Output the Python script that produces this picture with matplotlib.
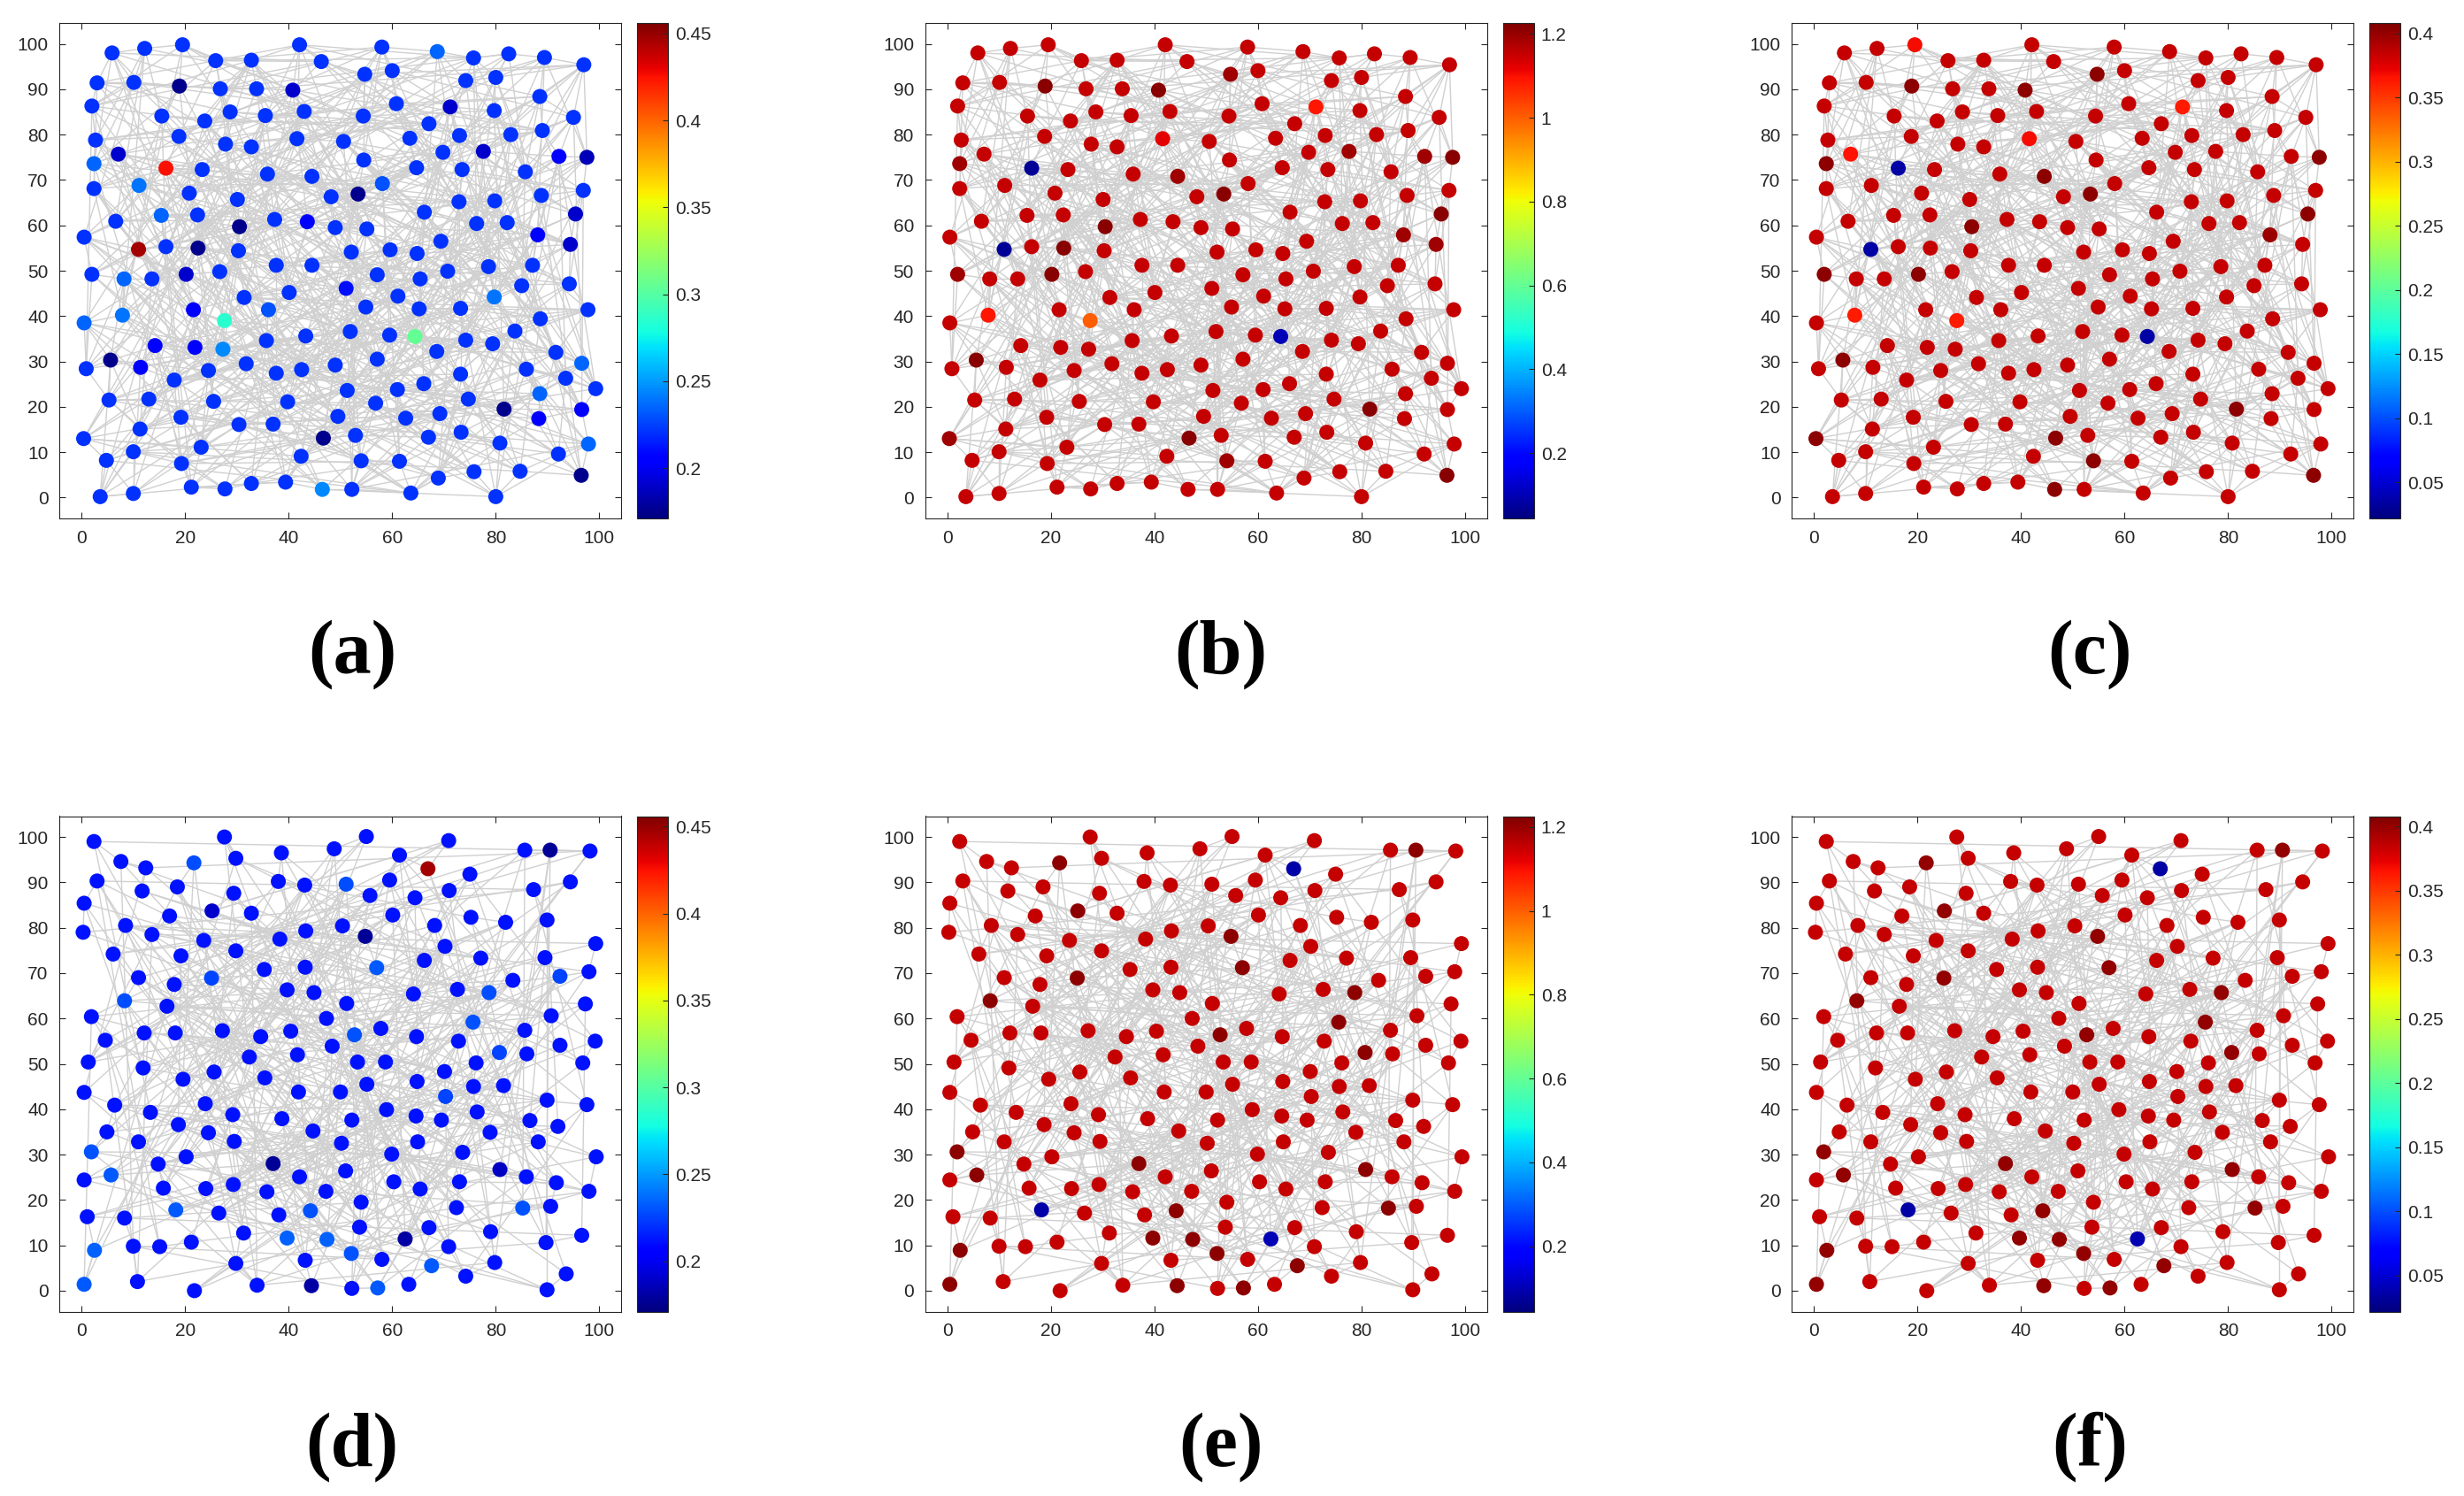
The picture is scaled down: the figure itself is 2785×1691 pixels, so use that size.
import numpy as np
import matplotlib
matplotlib.use('Agg')
import matplotlib.pyplot as plt
from matplotlib.collections import LineCollection

# ---------------- data: node positions of the two networks ----------------
net1_x = [19.5,42.1,58.0,12.2,5.9,68.7,25.9,32.8,46.3,75.7,82.5,89.4,97.0,54.7,60.0,
          3.0,10.1,18.9,26.8,33.8,40.8,74.2,80.0,88.5,2.0,60.8,71.2,79.7,95.0,15.5,23.8,28.7,35.5,43.0,54.4,67.1,
          2.7,18.8,27.8,32.8,41.6,50.6,63.4,73.0,82.9,89.0,7.1,54.5,69.8,77.6,92.2,97.6,
          2.4,16.3,23.3,35.9,44.5,64.7,73.5,85.7,2.4,11.1,20.8,30.1,48.2,53.4,58.1,72.9,79.8,88.8,96.9,
          6.6,15.4,22.4,30.5,37.3,43.6,49.0,55.1,66.2,76.3,82.2,95.4,0.5,88.1,
          11.0,16.3,22.5,30.3,52.1,59.6,64.8,69.4,94.4,
          2.0,8.2,13.6,20.2,26.7,37.6,44.5,57.1,65.4,70.7,78.6,87.1,94.2,40.1,51.1,31.4,61.1,79.7,85.0,
          0.5,7.9,21.6,27.6,36.1,54.9,65.2,73.2,88.6,97.8,51.9,59.5,64.4,43.3,35.7,74.2,79.4,83.7,14.2,21.9,27.3,68.6,91.6,
          5.6,0.9,11.4,24.5,31.8,37.6,42.5,49.0,57.1,73.2,85.9,96.6,17.9,51.3,61.0,66.1,93.5,99.3,88.5,
          5.3,13.0,25.5,39.8,56.8,74.7,81.6,96.6,19.2,30.4,37.0,49.5,62.6,69.2,88.3,11.3,0.4,46.7,52.9,67.0,73.3,80.8,97.9,
          10.0,23.1,4.8,19.3,42.4,54.0,61.4,92.1,75.8,84.7,68.9,96.5,
          3.6,10.0,21.2,27.7,32.8,39.4,46.5,52.2,63.6,80.0]
net1_y = [99.8,99.8,99.3,99.0,98.0,98.3,96.3,96.4,96.1,96.9,97.8,97.0,95.4,93.3,94.1,
          91.4,91.5,90.7,90.1,90.1,89.8,91.9,92.6,88.4,86.3,86.8,86.1,85.3,83.8,84.1,83.0,85.0,84.2,85.1,84.1,82.4,
          78.8,79.6,77.9,77.3,79.1,78.5,79.2,79.8,80.0,80.9,75.7,74.4,76.1,76.3,75.2,75.0,
          73.6,72.6,72.3,71.3,70.8,72.7,72.3,71.8,68.1,68.8,67.1,65.7,66.3,66.9,69.2,65.2,65.4,66.6,67.7,
          60.9,62.2,62.3,59.7,61.3,60.8,59.5,59.2,62.9,60.4,60.6,62.5,57.4,57.9,
          54.7,55.3,55.0,54.4,54.1,54.6,53.8,56.5,55.8,
          49.2,48.2,48.2,49.2,49.8,51.2,51.2,49.1,48.2,49.9,50.9,51.2,47.1,45.2,46.1,44.1,44.4,44.2,46.7,
          38.5,40.2,41.4,39.0,41.4,42.0,41.6,41.7,39.4,41.4,36.6,35.8,35.5,35.6,34.6,34.7,33.9,36.7,33.5,33.1,32.7,32.2,32.0,
          30.3,28.4,28.7,28.0,29.5,27.4,28.2,29.2,30.5,27.2,28.3,29.6,25.9,23.6,23.8,25.1,26.3,24.0,22.9,
          21.5,21.7,21.2,21.1,20.8,21.7,19.5,19.4,17.7,16.1,16.2,17.9,17.5,18.5,17.4,15.1,13.0,13.1,13.7,13.3,14.4,12.0,11.8,
          10.1,11.1,8.2,7.5,9.1,8.1,8.0,9.6,5.7,5.8,4.3,4.9,
          0.2,0.9,2.3,1.9,3.1,3.4,1.8,1.8,1.0,0.2]

net2_x = [2.4,27.6,38.6,29.8,48.8,55.0,61.4,70.9,85.6,90.5,98.2,66.9,75.0,94.4,
          7.6,12.4,21.7,3.0,11.7,18.5,29.4,38.0,43.1,51.1,59.5,55.7,64.4,71.0,87.3,0.5,25.2,32.8,17.0,60.1,75.2,81.9,89.9,
          0.3,8.5,13.6,23.6,38.3,43.3,50.4,54.8,68.2,70.2,99.3,
          6.1,19.2,29.8,35.3,43.2,57.0,66.2,77.1,89.5,11.0,17.9,25.1,83.3,92.4,98.0,39.7,44.9,64.1,72.6,78.7,51.2,8.3,16.5,97.3,
          1.9,47.3,75.6,90.7,
          12.1,18.1,27.2,34.6,40.4,52.7,57.8,64.7,72.8,85.6,4.6,48.4,80.7,86.0,92.4,99.2,1.3,11.9,32.4,41.7,53.3,58.7,70.1,
          76.2,96.8,19.6,25.6,35.4,55.1,64.8,75.7,81.5,0.5,41.9,50.0,70.3,89.9,97.6,
          6.4,13.3,23.9,29.2,38.7,52.2,58.9,64.6,69.5,76.4,86.6,18.7,4.9,24.5,44.7,78.9,92.0,11.0,29.5,50.2,64.9,88.2,1.9,
          20.2,59.9,73.6,99.4,37.0,80.8,14.8,5.7,0.5,42.1,51.0,60.3,73.0,85.9,91.7,15.8,24.0,29.3,35.8,47.2,65.4,98.0,
          18.2,26.5,38.1,44.2,54.0,72.4,85.2,90.6,1.1,8.3,31.3,53.7,67.1,79.0,96.6,2.5,10.0,15.1,21.2,39.7,47.4,62.5,70.9,
          89.7,29.8,43.2,52.1,58.0,67.6,79.8,93.6,74.2,0.5,10.8,21.8,33.9,44.4,52.2,57.2,63.2,89.9]
net2_y = [99.0,100.0,96.5,95.3,97.4,100.1,96.0,99.2,97.1,97.1,96.9,93.0,91.8,90.1,
          94.6,93.2,94.3,90.3,88.1,89.0,87.6,90.2,89.4,89.6,90.5,87.1,86.6,88.2,88.4,85.4,83.7,83.2,82.6,82.8,82.3,81.2,81.7,
          79.0,80.5,78.5,77.2,77.5,79.3,80.4,78.1,80.5,75.9,76.5,
          74.2,73.8,74.9,70.8,71.3,71.2,72.8,73.3,73.4,69.0,67.5,68.9,68.4,69.3,70.3,66.3,65.7,65.4,66.4,65.7,63.3,63.9,62.7,63.2,
          60.4,60.0,59.2,60.6,
          56.8,56.8,57.3,56.0,57.2,56.4,57.8,56.0,55.0,57.4,55.2,53.9,52.5,52.2,54.1,55.0,50.4,49.1,51.5,52.0,50.4,50.4,48.3,
          50.2,50.2,46.6,48.2,46.9,45.5,46.1,45.0,45.2,43.7,43.8,43.8,42.8,42.0,41.0,
          40.9,39.3,41.2,38.8,37.9,37.6,39.9,38.5,37.6,39.4,37.5,36.6,35.0,34.8,35.2,34.9,36.2,32.8,32.9,32.5,32.8,32.8,30.6,
          29.5,30.1,30.5,29.5,28.0,26.7,27.9,25.5,24.4,25.1,26.4,24.0,24.0,25.1,23.8,22.6,22.5,23.4,21.8,21.9,22.4,21.9,
          17.8,17.1,16.7,17.6,19.5,18.3,18.2,18.6,16.3,16.0,12.7,14.0,13.9,13.0,12.2,8.9,9.8,9.7,10.7,11.6,11.3,11.4,9.7,
          10.6,6.0,6.7,8.2,6.9,5.5,6.2,3.7,3.2,1.4,2.0,0.0,1.2,1.1,0.5,0.6,1.4,0.2]

# ---------------- data: node values per panel (typical value + nodes that differ) ----------------
val_a_base = 0.22
val_a_nodes = [(18.9,90.7,0.175),(53.4,66.9,0.175),(30.5,59.7,0.175),(22.5,55.0,0.175),(5.6,30.3,0.175),
               (81.6,19.5,0.175),(46.7,13.1,0.175),(96.5,4.9,0.175),
               (40.8,89.8,0.19),(71.2,86.1,0.19),(7.1,75.7,0.19),(77.6,76.3,0.19),(97.6,75.0,0.185),(95.4,62.5,0.19),
               (94.4,55.8,0.19),(20.2,49.2,0.19),
               (92.2,75.2,0.205),(43.6,60.8,0.205),(21.6,41.4,0.205),(11.4,28.7,0.205),(21.9,33.1,0.205),(14.2,33.5,0.205),
               (88.3,17.4,0.205),(96.6,19.4,0.205),(88.1,57.9,0.205),(51.1,46.1,0.21),
               (68.7,98.3,0.235),(2.4,73.6,0.235),(11.1,68.8,0.24),(15.4,62.2,0.235),(8.2,48.2,0.235),(7.9,40.2,0.24),
               (0.5,38.5,0.235),(79.7,44.2,0.24),(96.6,29.6,0.235),(88.5,22.9,0.235),(97.9,11.8,0.235),(36.1,41.4,0.23),
               (58.1,69.2,0.23),(27.3,32.7,0.245),(46.5,1.8,0.245),
               (16.3,72.6,0.425),(11.0,54.7,0.447),(27.6,39.0,0.285),(64.4,35.5,0.305)]

val_b_base = 1.155
val_b_nodes = [(16.3,72.6,0.07),(11.0,54.7,0.07),(64.4,35.5,0.10),
               (27.6,39.0,1.0),(7.9,40.2,1.09),(71.2,86.1,1.09),(41.6,79.1,1.12),
               (18.9,90.7,1.215),(40.8,89.8,1.215),(53.4,66.9,1.215),(30.5,59.7,1.215),(22.5,55.0,1.215),
               (20.2,49.2,1.215),(5.6,30.3,1.215),(46.7,13.1,1.215),(81.6,19.5,1.215),(96.5,4.9,1.215),
               (97.6,75.0,1.215),(95.4,62.5,1.215),
               (94.4,55.8,1.19),(77.6,76.3,1.19),(0.4,13.0,1.19),(2.4,73.6,1.19),(2.0,49.2,1.19),(88.1,57.9,1.19),
               (92.2,75.2,1.19),(54.7,93.3,1.19),(44.5,70.8,1.19),(54.0,8.1,1.19)]

val_c_base = 0.385
val_c_nodes = [(16.3,72.6,0.035),(11.0,54.7,0.035),(64.4,35.5,0.035),
               (7.1,75.7,0.365),(41.6,79.1,0.368),(71.2,86.1,0.362),(7.9,40.2,0.362),(27.6,39.0,0.362),(19.5,99.8,0.368),
               (54.7,93.3,0.402),(18.9,90.7,0.402),(40.8,89.8,0.402),(2.4,73.6,0.402),(44.5,70.8,0.402),
               (53.4,66.9,0.402),(30.5,59.7,0.402),(2.0,49.2,0.402),(20.2,49.2,0.402),(5.6,30.3,0.402),
               (0.4,13.0,0.402),(46.7,13.1,0.402),(81.6,19.5,0.402),(96.5,4.9,0.402),(54.0,8.1,0.402),
               (46.5,1.8,0.402),(97.6,75.0,0.402),(95.4,62.5,0.402),(88.1,57.9,0.398)]

val_d_base = 0.212
val_d_nodes = [(90.5,97.1,0.177),(54.8,78.1,0.177),(37.0,28.0,0.177),(62.5,11.4,0.18),(44.4,1.1,0.18),
               (25.2,83.7,0.19),(80.8,26.7,0.188),
               (66.9,93.0,0.447),
               (21.7,94.3,0.228),(51.1,89.6,0.228),(57.0,71.2,0.232),(25.1,68.9,0.226),(8.3,63.9,0.228),
               (92.4,69.3,0.226),(78.7,65.7,0.228),(75.6,59.2,0.23),(52.7,56.4,0.23),(80.7,52.5,0.226),
               (70.3,42.8,0.226),(1.9,30.6,0.23),(5.7,25.5,0.232),(18.2,17.8,0.232),(44.2,17.6,0.23),
               (85.2,18.2,0.23),(2.5,8.9,0.234),(39.7,11.6,0.234),(47.4,11.3,0.234),(52.1,8.2,0.23),
               (67.6,5.5,0.232),(0.5,1.4,0.232),(57.2,0.6,0.232)]

dark_ef = [(90.5,97.1),(21.7,94.3),(25.2,83.7),(54.8,78.1),(57.0,71.2),(25.1,68.9),(8.3,63.9),(78.7,65.7),
           (75.6,59.2),(52.7,56.4),(80.7,52.5),(37.0,28.0),(80.8,26.7),(1.9,30.6),(5.7,25.5),(2.5,8.9),
           (0.5,1.4),(44.4,1.1),(57.2,0.6),(44.2,17.6),(85.2,18.2),(39.7,11.6),(47.4,11.3),(52.1,8.2),(67.6,5.5)]
val_e_base = 1.155
val_e_nodes = [(66.9,93.0,0.09),(18.2,17.8,0.09),(62.5,11.4,0.10)] + [(px, py, 1.21) for px, py in dark_ef]
val_f_base = 0.385
val_f_nodes = [(66.9,93.0,0.035),(18.2,17.8,0.035),(62.5,11.4,0.04)] + [(px, py, 0.401) for px, py in dark_ef]

# colour ranges and colorbar ticks
clim_a = (0.171, 0.456); ticks_a = [0.2, 0.25, 0.3, 0.35, 0.4, 0.45]
clim_b = (0.044, 1.226); ticks_b = [0.2, 0.4, 0.6, 0.8, 1.0, 1.2]
clim_c = (0.022, 0.408); ticks_c = [0.05, 0.1, 0.15, 0.2, 0.25, 0.3, 0.35, 0.4]
labels = ['(a)', '(b)', '(c)', '(d)', '(e)', '(f)']


def build_values(x, y, base, nodes):
    v = np.full(len(x), base, dtype=float)
    xa, ya = np.asarray(x), np.asarray(y)
    for px, py, val in nodes:
        i = np.argmin((xa - px) ** 2 + (ya - py) ** 2)
        v[i] = val
    return v


def build_edges(x, y, ranks):
    xa, ya = np.asarray(x), np.asarray(y)
    d = np.hypot(xa[:, None] - xa[None, :], ya[:, None] - ya[None, :])
    order = np.argsort(d, axis=1, kind='stable')
    edges = set()
    for i in range(len(xa)):
        for r in ranks:
            j = order[i, r]
            edges.add((min(i, j), max(i, j)))
    return [[(xa[i], ya[i]), (xa[j], ya[j])] for i, j in sorted(edges)]


edges1 = build_edges(net1_x, net1_y, [1, 2, 3, 14, 35, 70, 120])
edges2 = build_edges(net2_x, net2_y, [1, 60, 150])

panels = [
    (net1_x, net1_y, edges1, build_values(net1_x, net1_y, val_a_base, val_a_nodes), clim_a, ticks_a),
    (net1_x, net1_y, edges1, build_values(net1_x, net1_y, val_b_base, val_b_nodes), clim_b, ticks_b),
    (net1_x, net1_y, edges1, build_values(net1_x, net1_y, val_c_base, val_c_nodes), clim_c, ticks_c),
    (net2_x, net2_y, edges2, build_values(net2_x, net2_y, val_d_base, val_d_nodes), clim_a, ticks_a),
    (net2_x, net2_y, edges2, build_values(net2_x, net2_y, val_e_base, val_e_nodes), clim_b, ticks_b),
    (net2_x, net2_y, edges2, build_values(net2_x, net2_y, val_f_base, val_f_nodes), clim_c, ticks_c),
]

W, H = 2785, 1691
fig = plt.figure(figsize=(W / 100, H / 100), dpi=100)
fig.patch.set_facecolor('white')

ax_lefts = [67, 1045.5, 2025]
ax_w = 635
row_tops = [26, 922.5]
ax_h = 560
cb_gap, cb_w = 18, 35
label_x = [398, 1380, 2362]
label_y = [740, 1636]

tick_col = '#262626'
fs_tick = 15

for k, (x, y, edges, vals, clim, cticks) in enumerate(panels):
    r, c = divmod(k, 3)
    left = ax_lefts[c]
    top = row_tops[r]
    ax = fig.add_axes([left / W, 1 - (top + ax_h) / H, ax_w / W, ax_h / H])
    lc = LineCollection(edges, colors='#d0d0d0', linewidths=1.0, zorder=1)
    ax.add_collection(lc)
    sc = ax.scatter(x, y, c=vals, cmap='jet', vmin=clim[0], vmax=clim[1], s=150,
                    edgecolors='none', zorder=2)
    ax.set_xlim(-4.3, 104.2)
    ax.set_ylim(-4.6, 104.6)
    ax.set_xticks([0, 20, 40, 60, 80, 100])
    ax.set_yticks(range(0, 101, 10))
    ax.tick_params(direction='in', top=True, right=True, length=5, width=0.8,
                   labelsize=fs_tick, labelcolor=tick_col, color=tick_col, pad=9)
    for lab in ax.get_xticklabels() + ax.get_yticklabels():
        lab.set_fontfamily('Liberation Sans')
    for sp in ax.spines.values():
        sp.set_linewidth(0.8)
        sp.set_color(tick_col)

    cax = fig.add_axes([(left + ax_w + cb_gap) / W, 1 - (top + ax_h) / H, cb_w / W, ax_h / H])
    cb = fig.colorbar(sc, cax=cax, ticks=cticks)
    cb.ax.set_yticklabels(['%g' % t for t in cticks])
    cb.ax.tick_params(direction='in', length=4, width=0.8, labelsize=fs_tick,
                      labelcolor=tick_col, color=tick_col, pad=6)
    for lab in cb.ax.get_yticklabels():
        lab.set_fontfamily('Liberation Sans')
    cb.outline.set_linewidth(0.8)
    cb.outline.set_edgecolor(tick_col)

    fig.text(label_x[c] / W, 1 - label_y[r] / H, labels[k], ha='center', va='center',
             fontsize=62, fontweight='bold', fontfamily='Liberation Serif', color='black')

fig.savefig('out.png', dpi=100, facecolor='white')
